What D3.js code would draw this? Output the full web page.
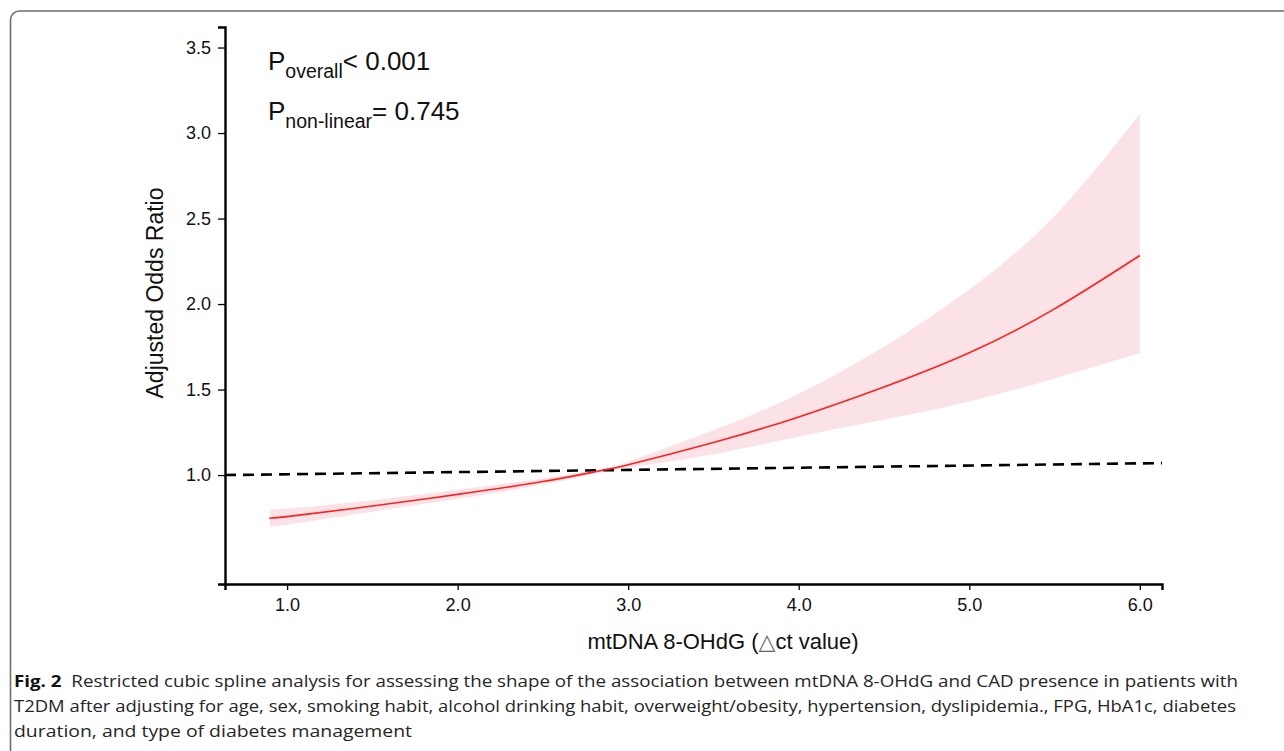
<!DOCTYPE html>
<html>
<head>
<meta charset="utf-8">
<script src="https://cdn.jsdelivr.net/npm/d3@7"></script>
<style>
  html, body { margin: 0; padding: 0; background: #fff; }
  svg { display: block; }
</style>
</head>
<body>
<svg id="svg" width="1284" height="751"></svg>
<script>
const w = 1284;
const h = 751;

// spline estimate + 95% CI
const xs = [0.9, 1.0, 1.5, 2.0, 2.5, 2.85, 3.0, 3.5, 4.0, 4.5, 5.0, 5.5, 6.0];
const orVals = [0.751, 0.757, 0.819, 0.887, 0.962, 1.028, 1.06, 1.19, 1.34, 1.515, 1.715, 1.972, 2.284];
const loVals = [0.702, 0.711, 0.786, 0.861, 0.945, 1.02, 1.044, 1.122, 1.225, 1.325, 1.43, 1.565, 1.714];
const hiVals = [0.801, 0.804, 0.853, 0.914, 0.98, 1.036, 1.078, 1.262, 1.475, 1.75, 2.085, 2.515, 3.111];

// dashed reference line
const refX = [0.636, 6.13];
const refY = [1.0, 1.07];

const xTicks = [1, 2, 3, 4, 5, 6];
const yTicks = [1.0, 1.5, 2.0, 2.5, 3.0, 3.5];

const captionLines = [
  "Restricted cubic spline analysis for assessing the shape of the association between mtDNA 8-OHdG and CAD presence in patients with",
  "T2DM after adjusting for age, sex, smoking habit, alcohol drinking habit, overweight/obesity, hypertension, dyslipidemia., FPG, HbA1c, diabetes",
  "duration, and type of diabetes management"
];

let svg = d3.select("#svg");

let xScale = d3.scaleLinear([0.636, 6.13], [225, 1162]);
let yScale = d3.scaleLinear([0.363, 3.62], [584, 27]);

// Frame round the figure
svg
  .append("rect")
  .attr("x", 10.5)
  .attr("y", 11)
  .attr("width", 1320)
  .attr("height", 770)
  .attr("rx", 9)
  .attr("fill", "none")
  .attr("stroke", "#6e6e6e")
  .attr("stroke-width", 1.6);

let data = xs.map((x, i) => ({ x, or: orVals[i], lo: loVals[i], hi: hiVals[i] }));

// CI band
let area = d3
  .area()
  .x((d) => xScale(d.x))
  .y0((d) => yScale(d.lo))
  .y1((d) => yScale(d.hi))
  .curve(d3.curveNatural);

svg.append("path").datum(data).attr("fill", "#fae2e7").attr("d", area);

// reference line
let refLine = d3
  .line()
  .x((d) => xScale(d[0]))
  .y((d) => yScale(d[1]));

svg
  .append("path")
  .datum(refX.map((x, i) => [x, refY[i]]))
  .attr("fill", "none")
  .attr("stroke", "#000")
  .attr("stroke-width", 2.6)
  .attr("stroke-dasharray", "11,7")
  .attr("d", refLine);

// estimate
let line = d3
  .line()
  .x((d) => xScale(d.x))
  .y((d) => yScale(d.or))
  .curve(d3.curveNatural);

svg
  .append("path")
  .datum(data)
  .attr("fill", "none")
  .attr("stroke", "#ff2020")
  .attr("stroke-width", 1.6)
  .attr("d", line);

// Axes
let xAxis = d3.axisBottom(xScale).tickValues(xTicks).tickFormat(d3.format(".1f")).tickSizeOuter(0).tickSize(6).tickPadding(8);
let yAxis = d3.axisLeft(yScale).tickValues(yTicks).tickFormat(d3.format(".1f")).tickSizeOuter(0).tickSize(7).tickPadding(7);

let gx = svg.append("g").attr("transform", "translate(0,584)").call(xAxis);
let gy = svg.append("g").attr("transform", "translate(225,0)").call(yAxis);

[gx, gy].forEach((g) => {
  g.select(".domain").attr("stroke", "#000").attr("stroke-width", 2.4);
  g.selectAll(".tick line").attr("stroke", "#000").attr("stroke-width", 1.3);
  g.selectAll(".tick text")
    .attr("fill", "#111")
    .style("font-family", "'Liberation Sans', Arial, sans-serif")
    .style("font-size", "18px");
});

// axis titles
let xt = svg
  .append("text")
  .attr("x", 723)
  .attr("y", 649)
  .attr("text-anchor", "middle")
  .style("font-family", "'Liberation Sans', Arial, sans-serif")
  .style("font-size", "22px")
  .attr("fill", "#111");
xt.append("tspan").text("mtDNA 8-OHdG (");
xt.append("tspan").style("font-family", "'DejaVu Sans', sans-serif").attr("fill", "#666").text("△");
xt.append("tspan").text("ct value)");

svg
  .append("text")
  .attr("transform", "translate(163,293) rotate(-90)")
  .attr("text-anchor", "middle")
  .style("font-family", "'Liberation Sans', Arial, sans-serif")
  .style("font-size", "23px")
  .attr("fill", "#111")
  .text("Adjusted Odds Ratio");

// P values
const pLabels = [
  { sub: "overall", rest: "< 0.001", y: 70 },
  { sub: "non-linear", rest: "= 0.745", y: 120 }
];

pLabels.forEach((p) => {
  let t = svg
    .append("text")
    .attr("x", 268)
    .attr("y", p.y)
    .style("font-family", "'Liberation Sans', Arial, sans-serif")
    .style("font-size", "26px")
    .attr("fill", "#111");
  t.append("tspan").text("P");
  t.append("tspan").attr("dy", 8).style("font-size", "19.5px").text(p.sub);
  t.append("tspan").attr("dy", -8).text(p.rest);
});

// caption
let cap = svg
  .append("g")
  .style("font-family", "'Open Sans', 'Noto Sans', sans-serif")
  .style("font-size", "16.5px")
  .attr("fill", "#262626");

const capWidths = [1224, 1222, 398];
captionLines.forEach((txt, i) => {
  let t = cap
    .append("text")
    .attr("x", 14)
    .attr("y", 687 + i * 25)
    .attr("textLength", capWidths[i])
    .attr("lengthAdjust", "spacingAndGlyphs");
  if (i === 0) {
    t.append("tspan").style("font-weight", "bold").attr("fill", "#111").text("Fig. 2");
    t.append("tspan").text("\u00a0 " + txt);
  } else {
    t.text(txt);
  }
});
</script>
</body>
</html>
